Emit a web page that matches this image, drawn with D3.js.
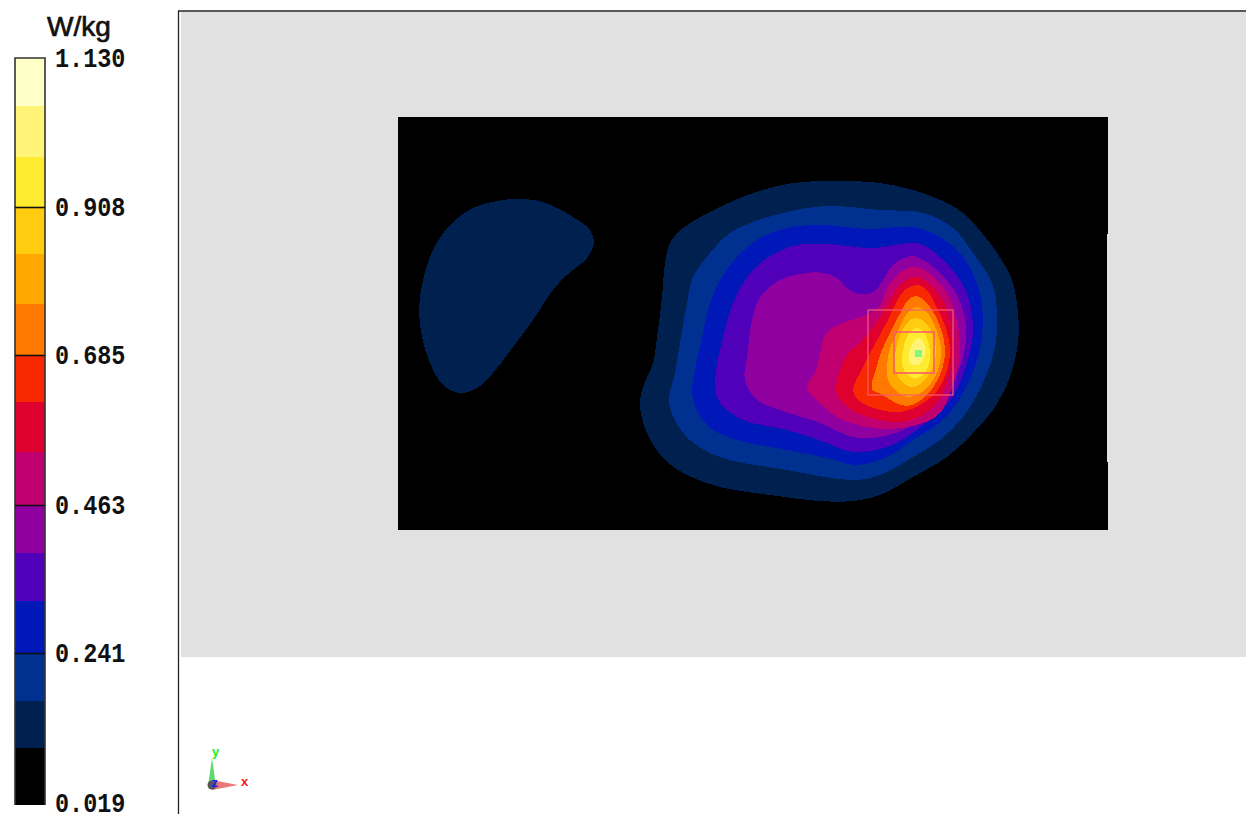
<!DOCTYPE html>
<html>
<head>
<meta charset="utf-8">
<script src="https://d3js.org/d3.v7.min.js"></script>
<style>
  html, body { margin: 0; background: #fff; overflow: hidden; }
  svg { display: block; }
</style>
</head>
<body>
<div id="plot"></div>
<script>
// Width and height
const w = 1246;
const h = 814;

// colour bar: upper edge value of each band, and its colour
const bandEdges = [0.019, 0.102, 0.171, 0.241, 0.319, 0.391, 0.463, 0.542, 0.615, 0.685, 0.762, 0.837, 0.908, 0.983, 1.058, 1.130];
const bandColors = ["#000000", "#00204f", "#003090", "#0018b8", "#5000b8", "#9000a0", "#c00070", "#e00030",
  "#f82800", "#ff7800", "#ffa800", "#ffcc10", "#ffec30", "#fff478", "#ffffc8"];
const tickValues = [0.019, 0.241, 0.463, 0.685, 0.908, 1.130];
const tickPixels = [805, 653, 505, 355, 207, 58];
const unitLabel = "W/kg";

// iso-level outlines (grid units from its top left corner)
const level1a = [[119,82],[145,85],[175,100],[192,113],[196,126],[189,141],[169,158],[155,173],[135,203],[115,230],[95,256],[79,271],[62,276],[45,268],[32,246],[24,220],[21,193],[25,163],[35,133],[52,108],[75,91],[99,84]];
const level1 = [[439,64],[395,66],[355,76],[322,90],[285,111],[272,126],[267,146],[264,180],[259,220],[255,246],[244,273],[242,290],[249,316],[265,341],[289,358],[322,370],[372,378],[422,384],[455,384],[482,378],[515,360],[549,340],[575,316],[595,293],[612,260],[620,226],[620,196],[614,163],[599,136],[579,110],[565,96],[549,86],[515,73],[482,66]];
const level2 = [[429,89],[389,95],[355,105],[332,116],[312,136],[295,160],[289,186],[282,226],[277,256],[271,283],[277,303],[292,323],[322,340],[389,353],[455,363],[482,358],[515,340],[542,323],[565,300],[585,266],[597,230],[599,196],[594,166],[575,136],[555,111],[525,96],[482,93]];
const level3 = [[422,108],[389,111],[362,121],[339,140],[322,163],[312,186],[304,220],[297,253],[294,276],[300,296],[312,311],[339,323],[389,333],[429,341],[459,348],[489,340],[515,323],[545,303],[565,276],[580,240],[585,203],[579,166],[565,140],[542,120],[515,110],[499,110],[472,112]];
const level4 = [[429,127],[399,128],[369,141],[349,160],[335,186],[325,220],[317,266],[322,286],[345,303],[389,313],[429,326],[455,335],[489,330],[509,320],[535,300],[555,280],[572,236],[575,210],[569,176],[552,150],[525,128],[509,126],[492,129],[472,131]];
const level5 = [[409,156],[382,163],[362,180],[354,203],[350,233],[347,263],[359,283],[382,293],[422,306],[455,320],[482,320],[515,308],[539,286],[562,250],[568,210],[560,180],[542,156],[519,140],[509,140],[495,148],[485,163],[475,175],[460,177],[449,171],[439,161],[425,156]];
const level6 = [[517,150],[503,155],[490,170],[481,190],[468,198],[445,206],[428,216],[423,232],[418,253],[409,270],[419,283],[439,300],[469,310],[492,312],[519,308],[541,297],[553,274],[561,245],[561,215],[552,182],[537,161]];
const level7 = [[519,160],[502,168],[492,183],[480,203],[465,223],[449,238],[440,260],[438,273],[445,286],[459,296],[482,303],[505,305],[529,295],[545,276],[552,255],[555,236],[554,213],[547,188],[537,173]];
const level8 = [[520,168],[508,172],[499,184],[490,203],[477,227],[465,250],[455,273],[459,282],[470,289],[487,294],[503,295],[522,288],[539,274],[549,254],[552,233],[547,208],[537,187],[530,174]];
const level9 = [[519,179],[510,183],[504,193],[495,210],[484,233],[478,252],[474,272],[485,278],[496,285],[508,289],[520,285],[534,272],[544,253],[547,232],[542,209],[532,190]];
const level10 = [[520,190],[512,193],[506,201],[500,214],[493,228],[489,248],[490,263],[497,273],[509,280],[521,277],[533,266],[541,250],[543,232],[538,212],[531,198]];
const level11 = [[519,201],[511,204],[505,212],[500,224],[497,238],[497,251],[501,261],[508,268],[515,270],[524,266],[532,256],[537,243],[538,231],[535,218],[529,207]];
const level12 = [[520,211],[513,214],[508,222],[505,233],[504,243],[506,253],[513,260],[519,261],[526,257],[531,247],[532,235],[530,224],[526,215]];
const level13 = [[520,221],[515,226],[511,236],[511,243],[515,248],[520,248],[525,243],[527,233],[525,225]];

const contours = [
  {band: 1, pts: level1a}, {band: 1, pts: level1}, {band: 2, pts: level2}, {band: 3, pts: level3},
  {band: 4, pts: level4}, {band: 5, pts: level5}, {band: 6, pts: level6}, {band: 7, pts: level7},
  {band: 8, pts: level8}, {band: 9, pts: level9}, {band: 10, pts: level10}, {band: 11, pts: level11},
  {band: 12, pts: level12}, {band: 13, pts: level13}
];

// zoom scan boxes and the peak cell, as [x0, y0, x1, y1]
const scanBoxes = [[470, 193, 555, 278], [496, 215, 536, 256]];
const peakCell = [517, 233, 524, 240];

const svg = d3.select("div#plot")
  .append("svg")
    .attr("width", w)
    .attr("height", h);

// view frame and grey background
svg.append("rect").attr("x", 181).attr("y", 12).attr("width", w - 181).attr("height", 645).attr("fill", "#e1e1e1");
svg.append("path").attr("d", `M178.5,${h}V11H${w}`).attr("fill", "none").attr("stroke", "#222").attr("stroke-width", 1.3);

// scan plane
const xScale = d3.scaleLinear().domain([0, 710]).range([398, 1108]);
const yScale = d3.scaleLinear().domain([0, 413]).range([117, 530]);

const plane = svg.append("g").attr("id", "plane");
plane.append("rect")
  .attr("x", xScale(0)).attr("y", yScale(0))
  .attr("width", xScale(710) - xScale(0)).attr("height", yScale(413) - yScale(0))
  .attr("fill", bandColors[0]);
// small nick on the right edge of the plane
plane.append("rect")
  .attr("x", xScale(709)).attr("y", yScale(117))
  .attr("width", 1).attr("height", yScale(345) - yScale(117))
  .attr("fill", "#e1e1e1");

const outline = d3.line()
  .x(d => xScale(d[0]))
  .y(d => yScale(d[1]))
  .curve(d3.curveCatmullRomClosed.alpha(0.5));

plane.selectAll("path.level")
  .data(contours)
  .enter()
  .append("path")
    .attr("class", "level")
    .attr("d", d => outline(d.pts))
    .attr("fill", d => bandColors[d.band])
    .attr("shape-rendering", "crispEdges");

plane.selectAll("rect.box")
  .data(scanBoxes)
  .enter()
  .append("rect")
    .attr("class", "box")
    .attr("x", d => xScale(d[0]))
    .attr("y", d => yScale(d[1]))
    .attr("width", d => xScale(d[2]) - xScale(d[0]))
    .attr("height", d => yScale(d[3]) - yScale(d[1]))
    .attr("fill", "none")
    .attr("stroke", "#f85c6c")
    .attr("stroke-width", (d, i) => i ? 1.6 : 1.2);

plane.append("rect")
  .attr("x", xScale(peakCell[0])).attr("y", yScale(peakCell[1]))
  .attr("width", xScale(peakCell[2]) - xScale(peakCell[0]))
  .attr("height", yScale(peakCell[3]) - yScale(peakCell[1]))
  .attr("fill", "#80f880");

// colour bar
const barScale = d3.scaleLinear().domain(tickValues).range(tickPixels);
const barX = 15;
const barW = 30;
const bar = svg.append("g").attr("id", "colorbar");

bar.selectAll("rect.band")
  .data(bandColors)
  .enter()
  .append("rect")
    .attr("class", "band")
    .attr("x", barX)
    .attr("y", (d, i) => barScale(bandEdges[i + 1]))
    .attr("width", barW)
    .attr("height", (d, i) => barScale(bandEdges[i]) - barScale(bandEdges[i + 1]))
    .attr("fill", d => d)
    .attr("shape-rendering", "crispEdges");

bar.append("path")
  .attr("d", `M${barX},${barScale(0.019)}V${barScale(1.13)}H${barX + barW}V${barScale(0.019)}`)
  .attr("fill", "none")
  .attr("stroke", "#333")
  .attr("stroke-width", 1.6);

const barAxis = d3.axisRight(barScale)
  .tickValues(tickValues)
  .tickFormat(d3.format(".3f"))
  .tickSize(-barW)
  .tickPadding(10);

const axisG = bar.append("g")
  .attr("transform", `translate(${barX + barW}, 0)`)
  .call(barAxis);
axisG.select(".domain").remove();
axisG.selectAll(".tick line").attr("stroke", "#111").attr("stroke-width", 1.6);
axisG.selectAll(".tick").filter(d => d === 0.019 || d === 1.130).select("line").remove();
// bottom label sits a little above its tick so it stays on the page
axisG.selectAll(".tick text")
  .attr("font-family", "'Liberation Mono', monospace")
  .attr("font-weight", "bold")
  .attr("font-size", 23.5)
  .attr("fill", "#111")
  .attr("transform", d => `translate(0, ${d === 0.019 ? -2.5 : -1}) scale(1, 1.2)`);

svg.append("text")
  .attr("x", 79)
  .attr("y", 36)
  .attr("text-anchor", "middle")
  .attr("font-family", "'Liberation Sans', sans-serif")
  .attr("font-size", 28)
  .attr("fill", "#111")
  .attr("stroke", "#111")
  .attr("stroke-width", 0.7)
  .text(unitLabel);

// orientation triad
const triad = svg.append("g").attr("id", "triad");
triad.append("path").attr("d", "M208,786L212,758L216,786Z").attr("fill", "#60d870");
triad.append("path").attr("d", "M212,780L238,785L212,790Z").attr("fill", "#e87878");
triad.append("circle").attr("cx", 212).attr("cy", 785).attr("r", 4.5).attr("fill", "#555");
triad.selectAll("text")
  .data([["y", 212, 756, "#20f020"], ["x", 241, 786, "#f02020"], ["z", 211.5, 787, "#2020f0"]])
  .enter()
  .append("text")
    .attr("x", d => d[1])
    .attr("y", d => d[2])
    .attr("font-family", "'Liberation Sans', sans-serif")
    .attr("font-size", 13)
    .attr("font-weight", "bold")
    .attr("fill", d => d[3])
    .text(d => d[0]);
</script>
</body>
</html>
